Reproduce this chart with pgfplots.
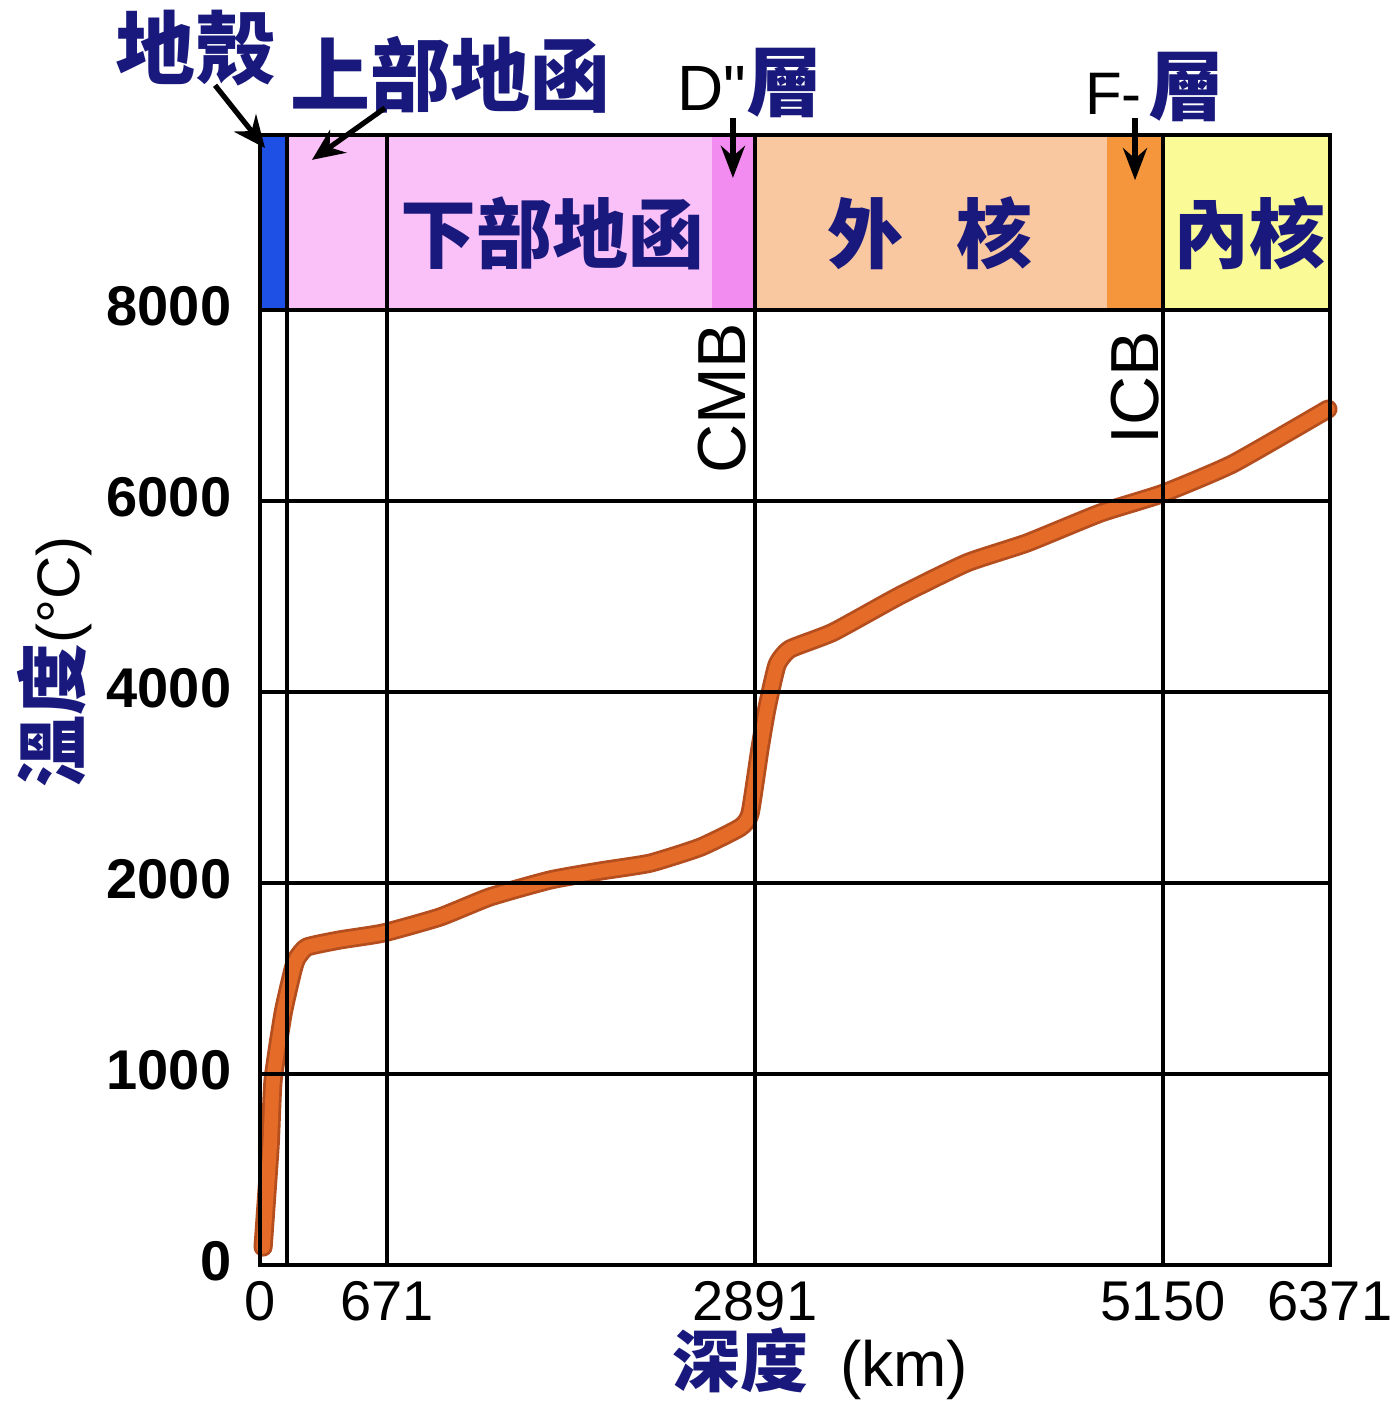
\documentclass[border=0pt]{standalone}
\usepackage{fontspec}
\setmainfont{Liberation Sans}
\newfontfamily\sfplain{Liberation Sans}
\newfontfamily\cjk{Noto Sans CJK TC}
\usepackage{pgfplots}
\pgfplotsset{compat=1.18}
\usetikzlibrary{arrows.meta}

\definecolor{navy}{RGB}{25,25,125}
\definecolor{crust}{RGB}{30,80,230}
\definecolor{mantle}{RGB}{250,192,248}
\definecolor{dlayer}{RGB}{242,140,240}
\definecolor{outercore}{RGB}{250,200,160}
\definecolor{flayer}{RGB}{246,150,60}
\definecolor{innercore}{RGB}{250,250,150}
\definecolor{curvecore}{RGB}{228,108,40}
\definecolor{curveedge}{RGB}{180,78,30}

\newcommand\fs[1]{\fontsize{#1}{#1}\selectfont}

\begin{document}
\begin{tikzpicture}
\path[use as bounding box] (-65pt,-34.25pt) rectangle (284pt,316.25pt);
\begin{axis}[
  scale only axis, width=267.5pt, height=282.5pt,
  at={(0,0)}, anchor=south west,
  xmin=0, xmax=6371, ymin=0, ymax=9832,
  x coord trafo/.code={\pgfmathparse{ifthenelse(#1<=35, #1*0.771429, ifthenelse(#1<=671, 27+(#1-35)*0.157233, ifthenelse(#1<=2891, 127+(#1-671)*0.165766, ifthenelse(#1<=5150, 495+(#1-2891)*0.180611, 903+(#1-5150)*0.136773))))}},
  y coord trafo/.code={\pgfmathparse{ifthenelse(#1<=2000, #1*0.1, 200+(#1-2000)*0.05)}},
  xtick={0,671,2891,5150,6371}, xticklabels={0,671,2891,5150,6371},
  extra x ticks={35}, extra x tick labels={},
  extra x tick style={grid=major},
  ytick={0,1000,2000,4000,6000,8000}, yticklabels={0,1000,2000,4000,6000,8000},
  grid=major, major grid style={black, line width=0.8pt},
  major tick length=0pt,
  axis line style={line width=1.2pt},
  axis on top, clip=false,
  xticklabel style={font=\fs{14}, inner sep=0pt, yshift=-4pt},
  yticklabel style={font=\bfseries\fs{14}, inner sep=0pt, xshift=-7pt, yshift=1pt},
]
% layer bands above 8000
\addplot[draw=none, fill=crust] coordinates {(0,8000) (35,8000) (35,9832) (0,9832)} -- cycle;
\addplot[draw=none, fill=mantle] coordinates {(35,8000) (671,8000) (671,9832) (35,9832)} -- cycle;
\addplot[draw=none, fill=mantle] coordinates {(671,8000) (2632,8000) (2632,9832) (671,9832)} -- cycle;
\addplot[draw=none, fill=dlayer] coordinates {(2632,8000) (2891,8000) (2891,9832) (2632,9832)} -- cycle;
\addplot[draw=none, fill=outercore] coordinates {(2891,8000) (4840,8000) (4840,9832) (2891,9832)} -- cycle;
\addplot[draw=none, fill=flayer] coordinates {(4840,8000) (5150,8000) (5150,9832) (4840,9832)} -- cycle;
\addplot[draw=none, fill=innercore] coordinates {(5150,8000) (6371,8000) (6371,9832) (5150,9832)} -- cycle;

% temperature curve
\addplot[draw=curveedge, double=curvecore, double distance=3.4pt, line width=0.7pt,
  line join=round, line cap=round, smooth, tension=0.3] coordinates {
(4,94) (13,618) (17,969) (30,1319) (73,1545) (99,1607) (162,1665) (372,1702)
(646,1738) (991,1822) (1292,1927) (1654,2031) (1956,2125) (2258,2208)
(2560,2374) (2801,2581) (2861,2727) (2919,3412) (2957,3827) (3013,4284)
(3085,4450) (3323,4626) (3694,5011) (4065,5353) (4397,5561) (4801,5872)
(5150,6080) (5662,6391) (6356,6962)
};

% labels inside the band
\node[navy, font=\cjk\bfseries\fs{19}] at (rel axis cs:0.2738,0.9133) {下部地函};
\node[navy, font=\cjk\bfseries\fs{19}] at (rel axis cs:0.626,0.9133) {外\hspace{0.7em}核};
\node[navy, font=\cjk\bfseries\fs{19}] at (rel axis cs:0.9243,0.9133) {內核};

% labels above
\node[navy, font=\cjk\bfseries\fs{20}] at (rel axis cs:-0.0607,1.077) {地殼};
\node[navy, font=\cjk\bfseries\fs{20}] at (rel axis cs:0.1776,1.053) {上部地函};
\node[anchor=base, inner sep=0pt] at (rel axis cs:0.458,1.022) {{\sfplain\fs{16}D"}{\color{navy}\cjk\bfseries\fs{19}層}};
\node[anchor=base, inner sep=0pt] at (rel axis cs:0.8364,1.0177) {{\sfplain\fs{15}F-}\,{\color{navy}\cjk\bfseries\fs{19}層}};

% arrows
\draw[-{Stealth[length=8pt,width=7pt]}, line width=1.3pt] (rel axis cs:-0.042,1.044) -- (rel axis cs:0.0047,0.9885);
\draw[-{Stealth[length=8pt,width=7pt]}, line width=1.3pt] (rel axis cs:0.1168,1.0239) -- (rel axis cs:0.0486,0.978);
\draw[-{Stealth[length=8pt,width=6pt]}, line width=1.3pt] (rel axis cs:0.442,1.015) -- (rel axis cs:0.442,0.962);
\draw[-{Stealth[length=8pt,width=6pt]}, line width=1.3pt] (rel axis cs:0.8178,1.015) -- (rel axis cs:0.8178,0.960);

% boundary labels
\node[rotate=90, font=\fs{17}] at (rel axis cs:0.4318,0.767) {CMB};
\node[rotate=90, font=\fs{17}] at (rel axis cs:0.8178,0.776) {ICB};

% axis titles
\node[rotate=90] at (rel axis cs:-0.1916,0.5336) {{\color{navy}\cjk\bfseries\fs{18}溫度}{\fs{15}(°C)}};
\node at (rel axis cs:0.5234,-0.0875) {{\color{navy}\cjk\bfseries\fs{17}深度}\hspace{8pt}{\fs{16}(km)}};
\end{axis}
\end{tikzpicture}
\end{document}
